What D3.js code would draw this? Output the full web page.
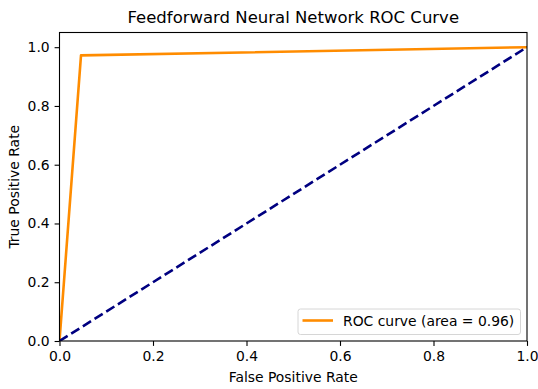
<!DOCTYPE html>
<meta charset="utf-8">
<style>
body { margin: 0; background: #fff; }
text { font-family: "DejaVu Sans", sans-serif; fill: #000; }
</style>
<body>
<div id="chart"></div>
<script src="https://d3js.org/d3.v7.min.js"></script>
<script>
// ROC points
var fpr = [0.0, 0.046, 1.0];
var tpr = [0.0, 0.972, 1.0];
var chanceX = [0, 1];
var chanceY = [0, 1];
var ticks = [0, 0.2, 0.4, 0.6, 0.8, 1.0];
var aucLabel = "ROC curve (area = 0.96)";

var width = 538, height = 389;
var mLeft = 59.5, mRight = 527, mTop = 32.5, mBottom = 341;

var svg = d3.select("#chart").append("svg")
    .attr("width", width)
    .attr("height", height);

var x = d3.scaleLinear().domain([0, 1]).range([mLeft, mRight]);
var y = d3.scaleLinear().domain([0, 1.05]).range([mBottom, mTop]);

var line = d3.line()
    .x(function(d) { return x(d[0]); })
    .y(function(d) { return y(d[1]); });

svg.append("clipPath").attr("id", "clip")
  .append("rect")
    .attr("x", mLeft).attr("y", mTop)
    .attr("width", mRight - mLeft).attr("height", mBottom - mTop);

var plot = svg.append("g").attr("clip-path", "url(#clip)");

plot.append("path")
    .datum(d3.zip(fpr, tpr))
    .attr("d", line)
    .attr("fill", "none")
    .attr("stroke", "darkorange")
    .attr("stroke-width", 2.6)
    .attr("stroke-linejoin", "round");

plot.append("path")
    .datum(d3.zip(chanceX, chanceY))
    .attr("d", line)
    .attr("fill", "none")
    .attr("stroke", "navy")
    .attr("stroke-width", 2.6)
    .attr("stroke-dasharray", "9.6,4.2");

// axes
var xAxis = d3.axisBottom(x).tickValues(ticks).tickFormat(d3.format(".1f")).tickSize(4.9).tickPadding(4.9);
var yAxis = d3.axisLeft(y).tickValues(ticks).tickFormat(d3.format(".1f")).tickSize(4.9).tickPadding(4.9);

var gx = svg.append("g").attr("transform", "translate(0," + mBottom + ")").call(xAxis);
var gy = svg.append("g").attr("transform", "translate(" + mLeft + ",0)").call(yAxis);
[gx, gy].forEach(function(g) {
  g.select(".domain").remove();
  g.selectAll(".tick line").attr("stroke", "#000").attr("stroke-width", 1.1);
  g.selectAll(".tick text").style("font-size", "13.9px").attr("fill", "#000");
});

svg.append("rect")
    .attr("x", mLeft).attr("y", mTop)
    .attr("width", mRight - mLeft).attr("height", mBottom - mTop)
    .attr("fill", "none")
    .attr("stroke", "#000")
    .attr("stroke-width", 1.1);

// labels
svg.append("text")
    .attr("x", (mLeft + mRight) / 2).attr("y", 23.3)
    .attr("text-anchor", "middle")
    .style("font-size", "16.5px")
    .text("Feedforward Neural Network ROC Curve");

svg.append("text")
    .attr("x", (mLeft + mRight) / 2).attr("y", 382)
    .attr("text-anchor", "middle")
    .style("font-size", "13.9px")
    .text("False Positive Rate");

svg.append("text")
    .attr("transform", "translate(19," + ((mTop + mBottom) / 2) + ") rotate(-90)")
    .attr("text-anchor", "middle")
    .style("font-size", "13.9px")
    .text("True Positive Rate");

// legend
var leg = svg.append("g");
leg.append("rect")
    .attr("x", 298).attr("y", 309)
    .attr("width", 222.5).attr("height", 25.5)
    .attr("rx", 2.5)
    .attr("fill", "#fff").attr("fill-opacity", 0.8)
    .attr("stroke", "#d6d6d6").attr("stroke-width", 1);
leg.append("line")
    .attr("x1", 302.5).attr("x2", 333)
    .attr("y1", 320.5).attr("y2", 320.5)
    .attr("stroke", "darkorange").attr("stroke-width", 2.6);
leg.append("text")
    .attr("x", 343).attr("y", 326)
    .style("font-size", "13.9px")
    .text(aucLabel);
</script>
</body>
